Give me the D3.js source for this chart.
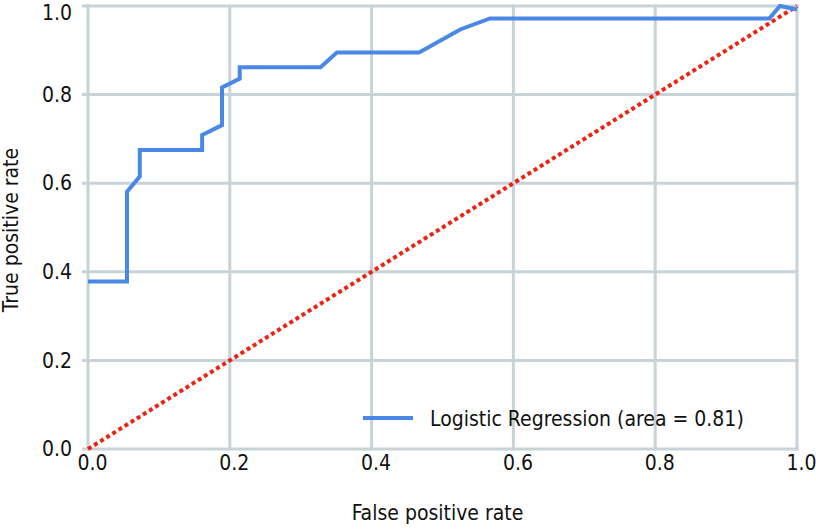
<!DOCTYPE html>
<html>
<head>
	<meta charset="utf-8">
	<script src="https://cdn.jsdelivr.net/npm/d3@7"></script>
	<style type="text/css">
		body { margin: 0; padding: 0; background: #fff; }
		text { font-family: "Liberation Sans Narrow", "DejaVu Sans Condensed", sans-serif; font-stretch: condensed; fill: #111; }
	</style>
</head>
<body>
	<script type="text/javascript">

		// ROC curve
		var fpr = [0, 0.055, 0.055, 0.073, 0.073, 0.161, 0.161, 0.189, 0.189, 0.214, 0.214, 0.328, 0.351, 0.467, 0.525, 0.567, 0.961, 0.976, 1.0];
		var tpr = [0.378, 0.378, 0.581, 0.615, 0.675, 0.675, 0.709, 0.731, 0.816, 0.836, 0.862, 0.862, 0.895, 0.895, 0.947, 0.972, 0.972, 1.0, 0.992];
		var chance = [0, 1];
		var ticks = [0, 0.2, 0.4, 0.6, 0.8, 1.0];
		var legendLabel = "Logistic Regression (area = 0.81)";

		var W = 816, H = 530;
		var m = {left: 88, right: 19, top: 6, bottom: 81};

		var svg = d3.select("body").append("svg")
			.attr("width", W)
			.attr("height", H);

		var x = d3.scaleLinear().domain([0, 1]).range([m.left, W - m.right]);
		var y = d3.scaleLinear().domain([0, 1]).range([H - m.bottom, m.top]);

		var grid = svg.append("g")
			.attr("stroke", "#c8d3d7")
			.attr("stroke-width", 3);

		// horizontal grid (sticks out a little on the left like a tick)
		grid.selectAll("line.h").data(ticks).enter().append("line")
			.attr("class", "h")
			.attr("x1", x(0) - 6).attr("x2", x(1) + 1.5)
			.attr("y1", function(d){ return y(d); })
			.attr("y2", function(d){ return y(d); });

		grid.selectAll("line.v").data(ticks).enter().append("line")
			.attr("class", "v")
			.attr("y1", y(0) + 1.5).attr("y2", y(1) - 1.5)
			.attr("x1", function(d){ return x(d); })
			.attr("x2", function(d){ return x(d); });

		// tick labels
		var yAxis = svg.append("g")
			.attr("transform", "translate(" + m.left + ",0)")
			.call(d3.axisLeft(y).tickValues(ticks).tickFormat(d3.format(".1f")).tickSize(0).tickPadding(16));
		var xAxis = svg.append("g")
			.attr("transform", "translate(4," + (H - m.bottom) + ")")
			.call(d3.axisBottom(x).tickValues(ticks).tickFormat(d3.format(".1f")).tickSize(0).tickPadding(6));
		svg.selectAll(".domain").remove();
		svg.selectAll(".tick text").style("font-size", "21px").attr("fill", "#111")
			.style("font-family", null);
		// top label is pushed down so it stays inside the picture
		yAxis.selectAll(".tick text").filter(function(d){ return d === 1; }).attr("dy", "0.66em");

		// chance line
		svg.append("path")
			.datum(chance)
			.attr("fill", "none")
			.attr("stroke", "#ee2211")
			.attr("stroke-width", 4)
			.attr("stroke-dasharray", "4,3.2")
			.attr("d", d3.line().x(function(d){ return x(d); }).y(function(d){ return y(d); }));

		// roc curve
		var pts = fpr.map(function(d, i){ return [d, tpr[i]]; });
		svg.append("path")
			.datum(pts)
			.attr("fill", "none")
			.attr("stroke", "#4a88e6")
			.attr("stroke-width", 4)
			.attr("stroke-linejoin", "miter")
			.attr("d", d3.line().x(function(d){ return x(d[0]); }).y(function(d){ return y(d[1]); }));

		// legend
		var lg = svg.append("g").attr("transform", "translate(363,418)");
		lg.append("line").attr("x1", 0).attr("x2", 50).attr("y1", 0).attr("y2", 0)
			.attr("stroke", "#4a88e6").attr("stroke-width", 4);
		lg.append("text").attr("x", 67).attr("y", 7.5).style("font-size", "21px").text(legendLabel);

		// axis titles
		svg.append("text")
			.attr("x", (x(0) + x(1)) / 2 - 5).attr("y", 520)
			.attr("text-anchor", "middle")
			.style("font-size", "21px")
			.text("False positive rate");
		svg.append("text")
			.attr("transform", "translate(18,230) rotate(-90)")
			.attr("text-anchor", "middle")
			.style("font-size", "21px")
			.text("True positive rate");

	</script>
</body>
</html>
